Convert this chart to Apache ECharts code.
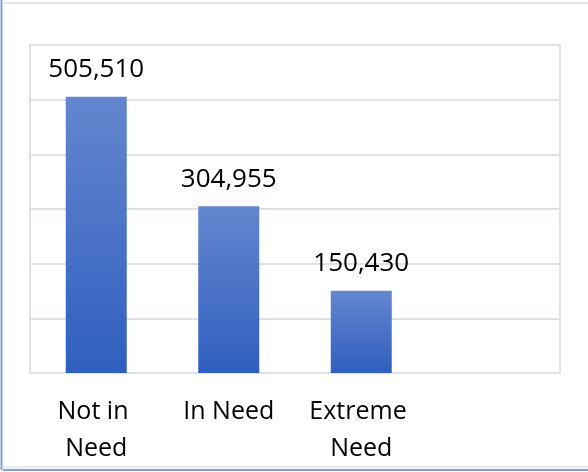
<!DOCTYPE html>
<html>
<head>
<meta charset="utf-8">
<script src="https://cdn.jsdelivr.net/npm/echarts@6/dist/echarts.min.js"></script>
<style>
  html, body { margin: 0; padding: 0; background: #fff; }
  #chart { width: 588px; height: 472px; }
</style>
</head>
<body>
<div id="chart"></div>
<script>
const categories = ['Not in Need', 'In Need', 'Extreme Need', ''];
const values = [505510, 304955, 150430, null];
const yTicks = [0, 100000, 200000, 300000, 400000, 500000, 600000];

const chart = echarts.init(document.getElementById('chart'), null, { renderer: 'canvas' });
const FONT = 'Open Sans';
const gridColor = '#dde1e8';

chart.setOption({
  animation: false,
  backgroundColor: '#ffffff',
  grid: {
    left: 30, right: 28, top: 45, bottom: 99,
    show: true, borderColor: gridColor, borderWidth: 2, backgroundColor: 'transparent'
  },
  xAxis: {
    type: 'category',
    data: categories,
    axisLine: { show: true, lineStyle: { color: gridColor, width: 2 } },
    axisTick: { show: false },
    axisLabel: {
      interval: 0,
      margin: 20,
      color: '#000',
      fontFamily: FONT,
      fontSize: 25,
      lineHeight: 37,
      width: 120,
      overflow: 'break'
    }
  },
  yAxis: {
    type: 'value',
    min: yTicks[0],
    max: yTicks[yTicks.length - 1],
    interval: yTicks[1] - yTicks[0],
    axisLabel: { show: false },
    axisLine: { show: false },
    axisTick: { show: false },
    splitLine: { show: true, lineStyle: { color: gridColor, width: 2 } }
  },
  series: [{
    type: 'bar',
    data: values,
    barWidth: 61,
    itemStyle: {
      color: new echarts.graphic.LinearGradient(0, 0, 0, 1, [
        { offset: 0, color: '#6486cf' },
        { offset: 1, color: '#305fbf' }
      ])
    },
    label: {
      show: true,
      position: 'top',
      distance: 14,
      color: '#000',
      fontFamily: FONT,
      fontSize: 26,
      formatter: p => p.value == null ? '' : p.value.toLocaleString('en-US')
    }
  }],
  graphic: [
    { type: 'line', shape: { x1: 4, y1: 3, x2: 588, y2: 3 }, style: { stroke: '#e2e6ee', lineWidth: 2 } },
    { type: 'line', shape: { x1: 1.5, y1: 0, x2: 1.5, y2: 470 }, style: { stroke: '#7f9fd6', lineWidth: 2 } },
    { type: 'line', shape: { x1: 3, y1: 467, x2: 588, y2: 467 }, style: { stroke: '#dfe4ee', lineWidth: 1.5 } },
    { type: 'line', shape: { x1: 3, y1: 470, x2: 588, y2: 470 }, style: { stroke: '#7f9fd6', lineWidth: 2 } }
  ]
});
</script>
</body>
</html>
